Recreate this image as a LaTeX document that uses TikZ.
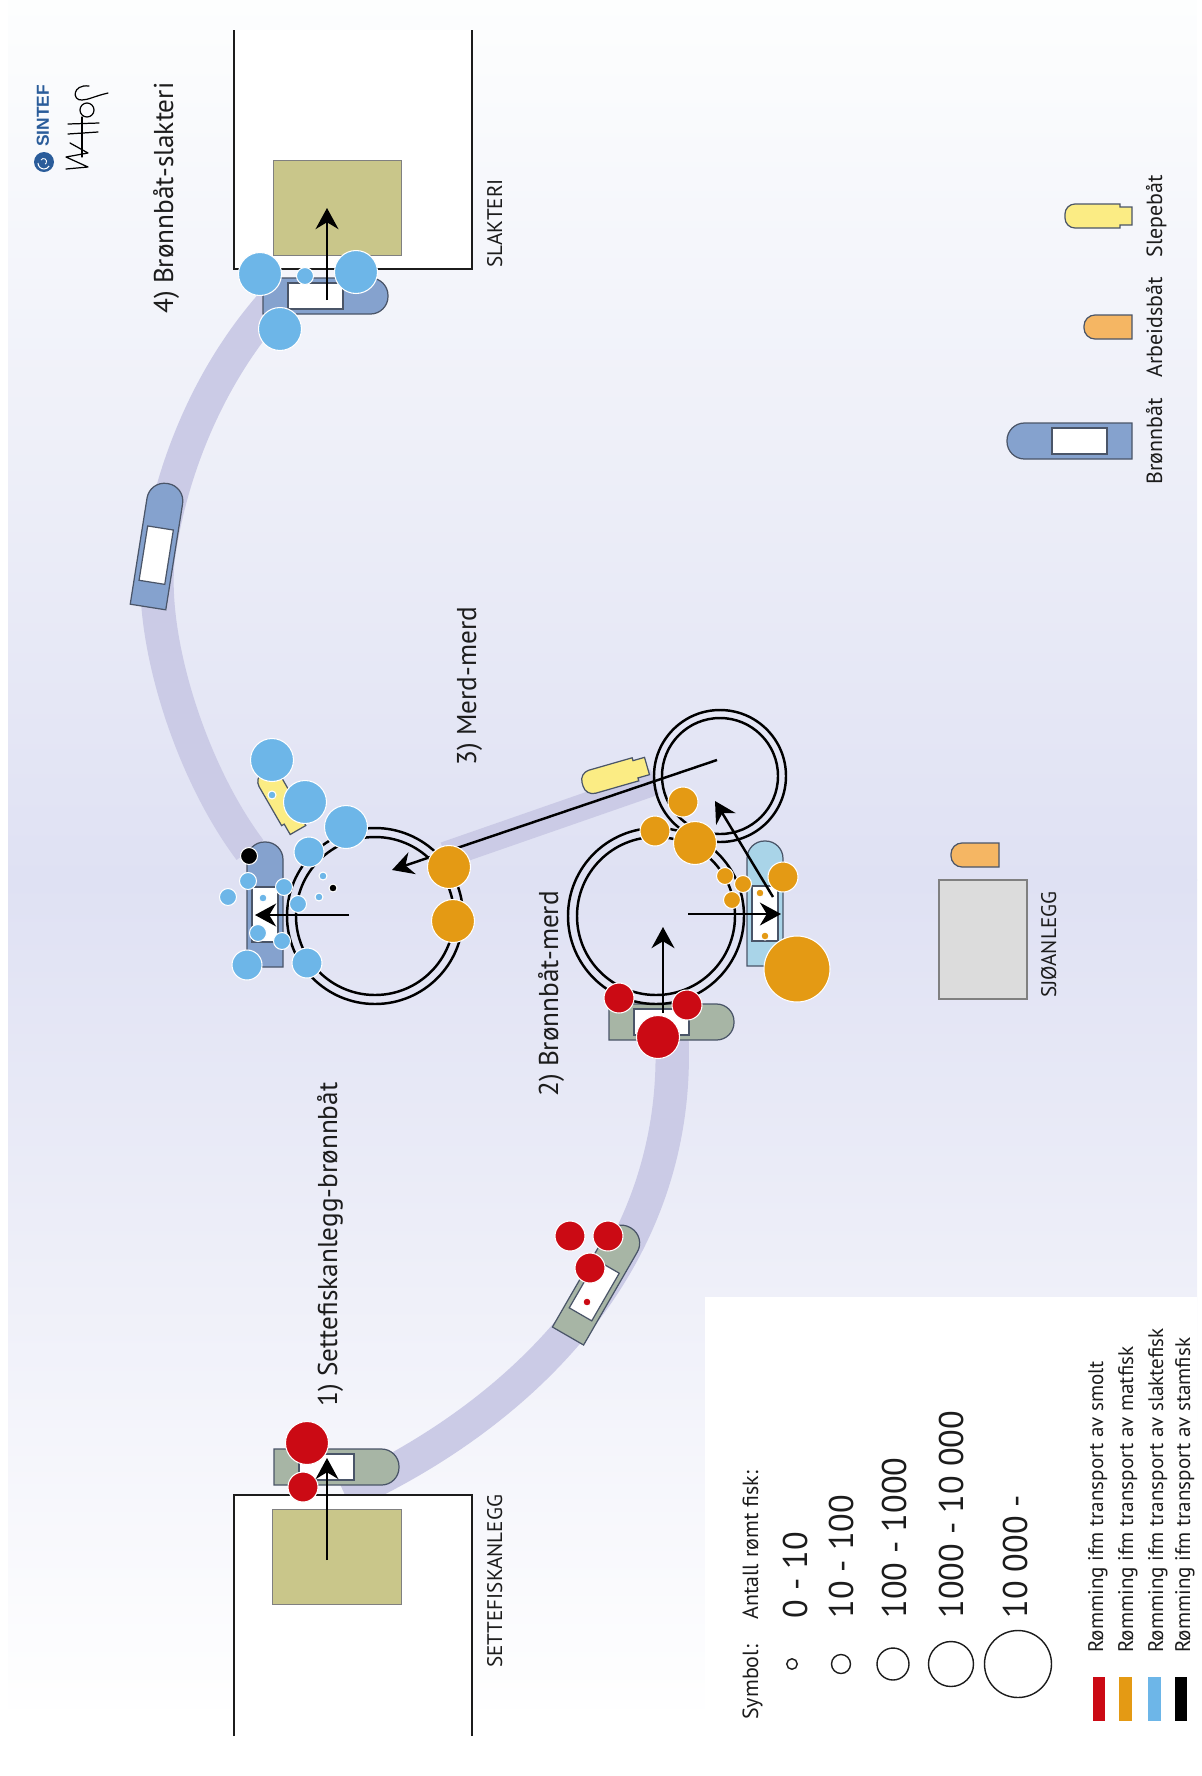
\documentclass[tikz,border=0pt]{standalone}
\usepackage{fontspec}
\setmainfont{PT Sans}
\newfontfamily\logofont{Liberation Sans}
\usetikzlibrary{arrows.meta}

\definecolor{skytop}{HTML}{FDFEFE}
\definecolor{skymid}{HTML}{DFE1F3}
\definecolor{routecol}{HTML}{CBCBE6}
\definecolor{plantcol}{HTML}{C9C68A}
\definecolor{seacol}{HTML}{DCDCDC}
\definecolor{brownboat}{HTML}{85A2CE}
\definecolor{greenboat}{HTML}{A7B5A5}
\definecolor{paleboat}{HTML}{A9D4E8}
\definecolor{tugcol}{HTML}{FBEC84}
\definecolor{workcol}{HTML}{F5B663}
\definecolor{smoltcol}{HTML}{CB0A14}
\definecolor{matcol}{HTML}{E49A14}
\definecolor{slaktcol}{HTML}{6DB6E8}
\definecolor{logocol}{HTML}{2A5C9A}
\definecolor{inkcol}{HTML}{1C1C1C}
\definecolor{hullcol}{HTML}{4A5568}

\tikzset{
    boatline/.style={draw=hullcol, line width=0.7pt},
    route/.style={routecol, line width=19pt},
    arrowline/.style={line width=1.4pt, -{Stealth[length=12pt,width=13pt]}},
    penline/.style={line width=1.4pt},
    fish/.style={circle, draw=white, line width=0.6pt, inner sep=0pt},
    fishA/.style={fish, minimum size=0.16cm},
    fishB/.style={fish, minimum size=0.34cm},
    fishC/.style={fish, minimum size=0.6cm},
    fishD/.style={fish, minimum size=0.86cm},
    fishE/.style={fish, minimum size=1.32cm},
    smolt/.style={fill=smoltcol},
    mat/.style={fill=matcol},
    slakt/.style={fill=slaktcol},
    stam/.style={fill=black},
    symbolring/.style={circle, draw=inkcol, line width=0.8pt, inner sep=0pt},
    uptext/.style={rotate=90, anchor=base west, inner sep=0pt, text=inkcol},
    steplabel/.style={uptext, font=\fontsize{15.5}{18}\selectfont},
    smalllabel/.style={uptext, font=\fontsize{12.5}{15}\selectfont},
    keylabel/.style={uptext, font=\fontsize{12}{15}\selectfont},
    sizelabel/.style={uptext, font=\fontsize{19.5}{24}\selectfont},
    pics/wellboat/.style={code={
        \draw[boatline, fill=#1] (0,-18) [rounded corners=0.35cm] -- (125,-18) -- (125,18) [sharp corners] -- (0,18) -- cycle;
        \draw[boatline, fill=white] (25,-13) rectangle (80,13);
    }},
    pics/tugboat/.style={code={
        \draw[boatline, fill=tugcol] (0,-9) -- (12,-9) -- (12,-12) [rounded corners=0.2cm] -- (67,-12) -- (67,12) [sharp corners] -- (12,12) -- (12,9) -- (0,9) -- cycle;
    }},
    pics/workboat/.style={code={
        \draw[boatline, fill=workcol] (0,-12) [rounded corners=0.22cm] -- (48,-12) -- (48,12) [sharp corners] -- (0,12) -- cycle;
    }}
}

\begin{document}
\begin{tikzpicture}[x=0.02cm, y=-0.02cm]
            \useasboundingbox (0,0) rectangle (1202,1776);
            \fill[top color=skytop, bottom color=skymid] (8,0) rectangle (1197,880);
            \fill[top color=skymid, bottom color=white] (8,879) rectangle (1197,1722);
            \fill[white] (705,1297) rectangle (1197,1722);

            % Routes
            \draw[route] (345,1495) .. controls (510,1420) and (680,1270) .. (672,1040);
            \draw[route] (280,295) .. controls (210,370) and (170,470) .. (158,560) .. controls (150,640) and (190,770) .. (250,850);
            \draw[routecol, line width=15pt] (445,855) -- (655,782);

            % Plants
            \fill[white] (234,30) rectangle (472,269);
            \draw[inkcol, line width=1.3pt] (234,30) -- (234,269) -- (472,269) -- (472,30);
            \draw[draw=gray, fill=plantcol] (273,160) rectangle (401,255);
            \fill[white] (234,1495) rectangle (472,1736);
            \draw[inkcol, line width=1.3pt] (234,1736) -- (234,1495) -- (472,1495) -- (472,1736);
            \draw[draw=gray, fill=plantcol] (272,1509) rectangle (401,1604);
            \draw[draw=gray, line width=1pt, fill=seacol] (939,880) rectangle (1027,999);

            % Boats
            \pic (slakteriboat) at (263,296) {wellboat=brownboat};
            \pic[rotate=81] (transitboat) at (148,607) {wellboat=brownboat};
            \pic[rotate=120] (tugA) at (298,830) {tugboat};
            \pic[rotate=90] (merdboat) at (265,967) {wellboat=brownboat};
            \pic[rotate=196] (tugB) at (647,766) {tugboat};
            \pic (smoltboat) at (609,1022) {wellboat=greenboat};
            \pic[rotate=90] (paleboat) at (765,966) {wellboat=paleboat};
            \pic[rotate=60] (smolttransit) at (568,1336) {wellboat=greenboat};
            \pic (plantboat) at (274,1467) {wellboat=greenboat};
            \pic[rotate=180] (workA) at (999,855) {workboat};
            \pic[rotate=180] (legendwell) at (1132,441) {wellboat=brownboat};
            \pic[rotate=180] (legendwork) at (1132,327) {workboat};
            \pic[rotate=180] (legendtug) at (1132,216) {tugboat};

            % Net pens
            \coordinate (penA) at (375,916);
            \coordinate (penB) at (656,916);
            \coordinate (penC) at (720,776);
            \draw[penline] (penA) circle(88);
            \draw[penline] (penA) circle(79);
            \draw[penline] (penB) circle(88);
            \draw[penline] (penB) circle(79);
            \draw[penline] (penC) circle(66);
            \draw[penline] (penC) circle(58);

            % Arrow under the fish
            \coordinate (moveFrom) at (717,760);
            \coordinate (moveTo) at (392,870);
            \draw[arrowline] (moveFrom) -- (moveTo);

            % Fish, slakteri
            \node[fishD, slakt] (s1) at (260,274) {};
            \node[fishD, slakt] (s2) at (356,272) {};
            \node[fishB, slakt] (s3) at (305,276) {};
            \node[fishD, slakt] (s4) at (280,329) {};

            % Fish, upper pen
            \node[fishD, slakt] (u1) at (272,760) {};
            \node[fishD, slakt] (u2) at (305,802) {};
            \node[fishD, slakt] (u3) at (346,827) {};
            \node[fishC, slakt] (u4) at (309,852) {};
            \node[fishA, slakt] (u5) at (272,795) {};
            \node[fishA, slakt] (u6) at (323,876) {};
            \node[fishA, slakt] (u7) at (319,897) {};
            \node[fishA, stam] (u8) at (333,888) {};
            \node[fishB, stam] (u9) at (249,856) {};
            \node[fishB, slakt] (u10) at (248,881) {};
            \node[fishB, slakt] (u11) at (284,887) {};
            \node[fishB, slakt] (u12) at (228,897) {};
            \node[fishA, slakt] (u13) at (263,898) {};
            \node[fishB, slakt] (u14) at (298,904) {};
            \node[fishB, slakt] (u15) at (258,933) {};
            \node[fishB, slakt] (u16) at (282,941) {};
            \node[fishC, slakt] (u17) at (247,965) {};
            \node[fishC, slakt] (u18) at (307,963) {};
            \node[fishD, mat] (u19) at (449,867) {};
            \node[fishD, mat] (u20) at (453,921) {};

            % Fish, lower pens
            \node[fishC, mat] (m1) at (683,802) {};
            \node[fishC, mat] (m2) at (655,831) {};
            \node[fishD, mat] (m3) at (695,843) {};
            \node[fishB, mat] (m4) at (725,876) {};
            \node[fishB, mat] (m5) at (743,884) {};
            \node[fishB, mat] (m6) at (732,900) {};
            \node[fishC, mat] (m7) at (783,877) {};
            \node[fishA, mat] (m8) at (760,893) {};
            \node[fishA, mat] (m9) at (765,936) {};
            \node[fishE, mat] (m10) at (797,969) {};
            \node[fishC, smolt] (m11) at (619,998) {};
            \node[fishC, smolt] (m12) at (687,1005) {};
            \node[fishD, smolt] (m13) at (658,1037) {};

            % Fish, smolt transport
            \node[fishC, smolt] (t1) at (570,1236) {};
            \node[fishC, smolt] (t2) at (608,1236) {};
            \node[fishC, smolt] (t3) at (590,1268) {};
            \node[fishA, smolt] (t4) at (587,1302) {};
            \node[fishD, smolt] (t5) at (307,1443) {};
            \node[fishC, smolt] (t6) at (303,1487) {};

            % Arrows
            \coordinate (a1) at (327,1560);
            \coordinate (a2) at (327,1458);
            \coordinate (b1) at (327,300);
            \coordinate (b2) at (327,208);
            \coordinate (c1) at (349,915);
            \coordinate (c2) at (255,915);
            \coordinate (d1) at (663,1013);
            \coordinate (d2) at (663,927);
            \coordinate (e1) at (688,914);
            \coordinate (e2) at (781,914);
            \coordinate (f1) at (773,897);
            \coordinate (f2) at (715,801);
            \draw[arrowline] (a1) -- (a2);
            \draw[arrowline] (b1) -- (b2);
            \draw[arrowline] (c1) -- (c2);
            \draw[arrowline] (d1) -- (d2);
            \draw[arrowline] (e1) -- (e2);
            \draw[arrowline] (f1) -- (f2);

            % Labels
            \node[steplabel] (step1) at (337,1407) {1) Settefiskanlegg-brønnbåt};
            \node[steplabel] (step2) at (558,1097) {2) Brønnbåt-merd};
            \node[steplabel] (step3) at (476,766) {3) Merd-merd};
            \node[steplabel] (step4) at (173,314) {4) Brønnbåt-slakteri};
            \node[keylabel] (slakteri) at (502,268) {SLAKTERI};
            \node[keylabel] (settefisk) at (502,1668) {SETTEFISKANLEGG};
            \node[keylabel] (sjo) at (1056,998) {SJØANLEGG};
            \node[smalllabel] (wellname) at (1162,485) {Brønnbåt};
            \node[smalllabel] (workname) at (1162,378) {Arbeidsbåt};
            \node[smalllabel] (tugname) at (1162,258) {Slepebåt};

            % Legend
            \node[smalllabel] (symbolhead) at (758,1720) {Symbol:};
            \node[smalllabel] (counthead) at (758,1620) {Antall rømt fisk:};
            \node[symbolring, minimum size=0.21cm] (ring1) at (792,1664) {};
            \node[symbolring, minimum size=0.38cm] (ring2) at (841,1664) {};
            \node[symbolring, minimum size=0.64cm] (ring3) at (893,1664) {};
            \node[symbolring, minimum size=0.9cm] (ring4) at (951,1664) {};
            \node[symbolring, minimum size=1.34cm] (ring5) at (1018,1664) {};
            \node[sizelabel] (size1) at (807,1619) {0 - 10};
            \node[sizelabel] (size2) at (853,1619) {10 - 100};
            \node[sizelabel] (size3) at (906,1619) {100 - 1000};
            \node[sizelabel] (size4) at (963,1619) {1000 - 10 000};
            \node[sizelabel] (size5) at (1027,1619) {10 000 -};
            \fill[smoltcol] (1093,1677) rectangle (1105,1721);
            \fill[matcol] (1119,1677) rectangle (1132,1721);
            \fill[slaktcol] (1148,1677) rectangle (1161,1721);
            \fill[black] (1175,1677) rectangle (1187,1721);
            \node[keylabel] (key1) at (1103,1653) {Rømming ifm transport av smolt};
            \node[keylabel] (key2) at (1133,1653) {Rømming ifm transport av matfisk};
            \node[keylabel] (key3) at (1163,1653) {Rømming ifm transport av slaktefisk};
            \node[keylabel] (key4) at (1190,1653) {Rømming ifm transport av stamfisk};

            % Logo and signature
            \fill[logocol] (44,162) circle(10);
            \draw[white, line width=0.6pt] (38,163) arc[start angle=180, end angle=330, radius=0.12cm];
            \draw[white, line width=0.5pt] (41,160) arc[start angle=150, end angle=-60, radius=0.06cm];
            \node[uptext, text=logocol, font=\logofont\bfseries\fontsize{9.9}{11}\selectfont] (logo) at (49,147) {SINTEF};
            \draw[black, line width=0.7pt, line join=round, line cap=round] (66,169) -- (88,167) -- (66,157) -- (88,153) -- (70,143);
            \draw[black, line width=0.7pt, line cap=round] (68,134) -- (98,132);
            \draw[black, line width=0.7pt, line cap=round] (68,124) -- (99,123);
            \draw[black, line width=0.7pt, line cap=round] (82,157) -- (82,117);
            \draw[black, line width=0.7pt] (87,110) circle(7);
            \draw[black, line width=0.7pt, line cap=round] (89,86) .. controls (72,84) and (72,101) .. (82,100) .. controls (88,100) and (95,96) .. (108,93);
\end{tikzpicture}
\end{document}
